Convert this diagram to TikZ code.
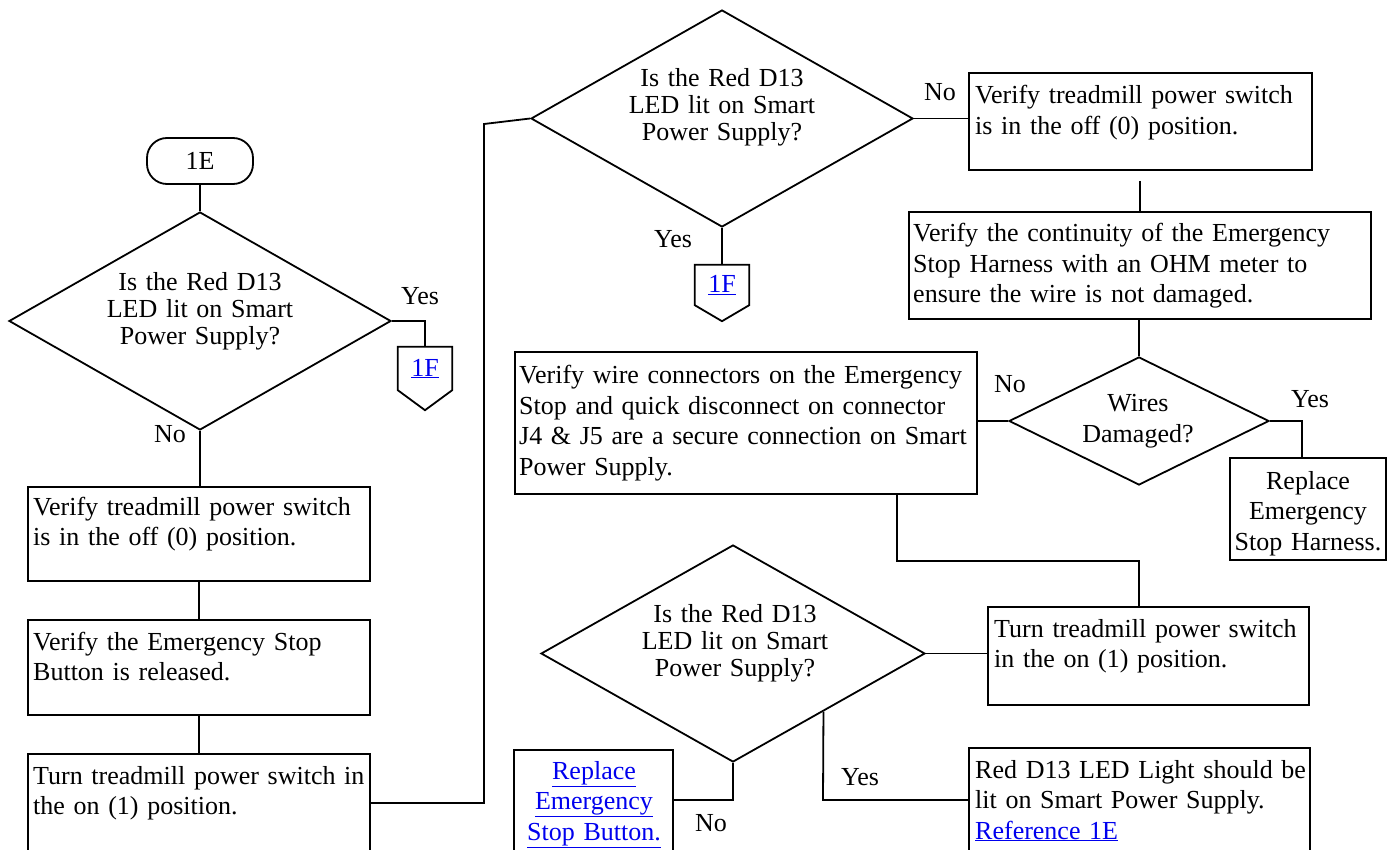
\documentclass[tikz,border=0pt]{standalone}
\usepackage{fontspec}
\setmainfont{Liberation Serif}
\usetikzlibrary{shapes.geometric,calc}
\definecolor{lk}{RGB}{0,0,238}
\newcommand\lnk[1]{\textcolor{lk}{\underline{#1}}}
\begin{document}
\begin{tikzpicture}[x=1pt,y=-1pt,
  boxst/.style={draw,line width=1.8pt,inner sep=0pt,rectangle},
  dia/.style={draw,line width=1.8pt,diamond,inner sep=0pt},
  txl/.style={anchor=base west,align=left,text width=470pt,inner sep=0pt,font=\fontsize{26}{30.5}\selectfont},
  txc/.style={anchor=base,align=center,text width=300pt,inner sep=0pt,font=\fontsize{26}{30.5}\selectfont},
  txd/.style={anchor=base,align=center,text width=300pt,inner sep=0pt,font=\fontsize{26}{27}\selectfont},
  lab/.style={inner sep=0pt,font=\fontsize{26}{30.5}\selectfont},
  conn/.style={line width=1.8pt}]
\clip (0,0) rectangle (1393,850);
\fill[white] (0,0) rectangle (1393,850);

% start terminator
\node[boxst,rounded corners=20pt,minimum width=106pt,minimum height=46pt,font=\fontsize{26}{30.5}\selectfont] (T1E) at (200,161) {1E};

% decision 1
\node[dia,minimum width=382pt,minimum height=218pt] (d1) at (200,321) {};
\node[txd] (d1t) at (200,291) {Is the Red D13\\LED lit on Smart\\Power Supply?};
\node[lab] (y1) at (420,296) {Yes};
\node[lab] (n1) at (170,434) {No};
\node[inner sep=0pt,minimum width=54pt,minimum height=43pt,font=\fontsize{26}{30.5}\selectfont] (F1) at (425,368.5) {\lnk{1F}};
\draw[conn] (F1.north west) -- (F1.north east) -- (F1.south east) -- ([yshift=-20pt]F1.south) -- (F1.south west) -- cycle;

% left column boxes
\node[boxst,minimum width=342pt,minimum height=94pt] (A) at (199,534) {};
\node[txl] (At) at (33,515) {Verify treadmill power switch\\is in the off (0) position.};
\node[boxst,minimum width=342pt,minimum height=95pt] (B) at (199,667.5) {};
\node[txl] (Bt) at (33,650) {Verify the Emergency Stop\\Button is released.};
\node[boxst,minimum width=342pt,minimum height=116pt] (C) at (199,812) {};
\node[txl] (Ct) at (33,784) {Turn treadmill power switch in\\the on (1) position.};

% decision 2
\node[dia,minimum width=382pt,minimum height=217pt] (d2) at (722,118.5) {};
\node[txd] (d2t) at (722,87) {Is the Red D13\\LED lit on Smart\\Power Supply?};
\node[lab] (y2) at (673,239) {Yes};
\node[lab] (n2) at (940,92) {No};
\node[inner sep=0pt,minimum width=54pt,minimum height=40pt,font=\fontsize{26}{30.5}\selectfont] (F2) at (722,285) {\lnk{1F}};
\draw[conn] (F2.north west) -- (F2.north east) -- (F2.south east) -- ([yshift=-16pt]F2.south) -- (F2.south west) -- cycle;

% right column
\node[boxst,minimum width=343pt,minimum height=97pt] (D) at (1140.5,121.5) {};
\node[txl] (Dt) at (975,104) {Verify treadmill power switch\\is in the off (0) position.};
\node[boxst,minimum width=462pt,minimum height=107pt] (E) at (1140,265.5) {};
\node[txl] (Et) at (913,242) {Verify the continuity of the Emergency\\Stop Harness with an OHM meter to\\ensure the wire is not damaged.};

% decision 3
\node[dia,minimum width=260pt,minimum height=128pt] (d3) at (1139,421) {};
\node[txc] (d3t) at (1138,412) {Wires\\Damaged?};
\node[lab] (y3) at (1310,399) {Yes};
\node[lab] (n3) at (1010,384) {No};
\node[boxst,minimum width=156pt,minimum height=102pt] (F) at (1308,509) {};
\node[txc] (Ft) at (1308,489) {Replace\\Emergency\\Stop Harness.};
\node[boxst,minimum width=462pt,minimum height=142pt] (G) at (746,423) {};
\node[txl] (Gt) at (519,384) {Verify wire connectors on the Emergency\\Stop and quick disconnect on connector\\J4 \& J5 are a secure connection on Smart\\Power Supply.};
\node[boxst,minimum width=321pt,minimum height=98pt] (H) at (1148.5,656) {};
\node[txl] (Ht) at (994,637) {Turn treadmill power switch\\in the on (1) position.};

% decision 4
\node[dia,minimum width=384pt,minimum height=217pt] (d4) at (733,653.5) {};
\node[txd] (d4t) at (735,622) {Is the Red D13\\LED lit on Smart\\Power Supply?};
\node[lab] (y4) at (860,777) {Yes};
\node[lab] (n4) at (711,823) {No};
\node[boxst,minimum width=159pt,minimum height=120pt] (J) at (593.5,810) {};
\node[txc] (Jt) at (594,779) {\lnk{Replace}\\\lnk{Emergency}\\\lnk{Stop Button.}};
\node[boxst,minimum width=341pt,minimum height=122pt] (I) at (1139.5,809) {};
\node[txl] (It) at (975,778) {Red D13 LED Light should be\\lit on Smart Power Supply.\\\lnk{Reference 1E}};

% connectors
\coordinate (c1) at (484,803);
\coordinate (c2) at (484,124);
\coordinate (fx) at (1302,421);
\coordinate (g1) at (897,561);
\coordinate (g2) at (1139,561);
\coordinate (yy) at (823,800);
\coordinate (nn) at (733,800);

\draw[conn] (T1E.south) -- (d1.north);
\draw[conn] (d1.east) -| (F1.north);
\draw[conn] (d1.south) -- (d1.south |- A.north);
\draw[conn] (A.south) -- (B.north);
\draw[conn] (B.south) -- (C.north);
\draw[conn] (c1 -| C.east) -- (c1) -- (c2) -- (d2.west);
\draw[conn] (d2.south) -- (F2.north);
\draw[conn] (d2.east) -- (d2.east -| D.west);
\draw[conn] ([yshift=-10pt]D.south -| E.north) -- (E.north);
\draw[conn] (d3.north |- E.south) -- (d3.north);
\draw[conn] (d3.east) -- (fx) -- (fx |- F.north);
\draw[conn] (d3.west) -- (d3.west -| G.east);
\draw[conn] (g1 |- G.south) -- (g1) -- (g2) -- (g2 |- H.north);
\draw[conn] (d4.east) -- (d4.east -| H.west);
\draw[conn] ($(d4.east)!0.531!(d4.south)$) -- (yy) -- (yy -| I.west);
\draw[conn] (d4.south) -- (nn) -- (nn -| J.east);
\end{tikzpicture}
\end{document}
